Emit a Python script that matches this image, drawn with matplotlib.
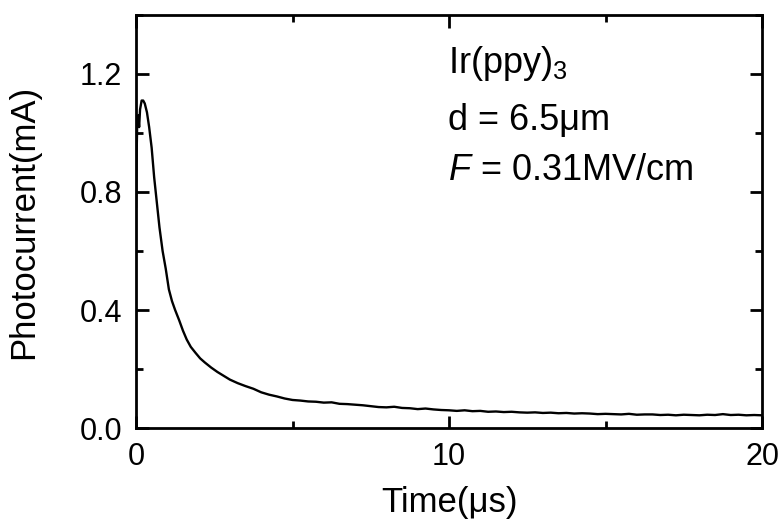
import matplotlib
matplotlib.use("Agg")
import matplotlib.pyplot as plt
from matplotlib.ticker import MultipleLocator

plt.rcParams['font.family'] = ['Liberation Sans', 'DejaVu Sans']
plt.rcParams['mathtext.fontset'] = 'custom'
plt.rcParams['mathtext.rm'] = 'Liberation Sans'
plt.rcParams['mathtext.it'] = 'Liberation Sans:italic'

time_us = [
    0.00, 0.02, 0.04, 0.07, 0.10, 0.13, 0.18, 0.23, 0.28, 0.35, 0.42, 0.50,
    0.58, 0.66, 0.75, 0.85, 0.95, 1.05, 1.15, 1.25, 1.38, 1.50, 1.62, 1.75,
    1.90, 2.05, 2.20, 2.40, 2.60, 2.80, 3.00, 3.25, 3.50, 3.75, 4.00, 4.25,
    4.50, 4.75, 5.00,
    5.25, 5.5, 5.75, 6.0, 6.25, 6.5, 6.75, 7.0, 7.25, 7.5, 7.75, 8.0,
    8.25, 8.5, 8.75, 9.0, 9.25, 9.5, 9.75, 10.0, 10.25, 10.5, 10.75, 11.0,
    11.25, 11.5, 11.75, 12.0, 12.25, 12.5, 12.75, 13.0, 13.25, 13.5, 13.75, 14.0,
    14.25, 14.5, 14.75, 15.0, 15.25, 15.5, 15.75, 16.0, 16.25, 16.5, 16.75, 17.0,
    17.25, 17.5, 17.75, 18.0, 18.25, 18.5, 18.75, 19.0, 19.25, 19.5, 19.75, 20.0,
]
photocurrent_mA = [
    0.75, 0.93, 1.04, 1.06, 1.02, 1.08, 1.11, 1.11, 1.10, 1.07, 1.02, 0.95,
    0.85, 0.77, 0.68, 0.60, 0.54, 0.47, 0.43, 0.40, 0.365, 0.33, 0.30, 0.275,
    0.255, 0.236, 0.222, 0.205, 0.190, 0.177, 0.164, 0.152, 0.142, 0.133, 0.121, 0.113,
    0.107, 0.100, 0.095,
    0.093, 0.090, 0.089, 0.086, 0.087, 0.082, 0.081, 0.079, 0.077, 0.074, 0.071, 0.070,
    0.072, 0.068, 0.067, 0.064, 0.066, 0.063, 0.061, 0.060, 0.058, 0.060, 0.057, 0.058,
    0.055, 0.056, 0.054, 0.055, 0.053, 0.052, 0.053, 0.051, 0.052, 0.050, 0.051, 0.049,
    0.050, 0.049, 0.047, 0.048, 0.047, 0.046, 0.048, 0.045, 0.046, 0.046, 0.044, 0.045,
    0.043, 0.045, 0.044, 0.043, 0.045, 0.044, 0.047, 0.044, 0.045, 0.043, 0.044, 0.043,
]

x_label = "Time(μs)"
y_label = "Photocurrent(mA)"
notes = ["Ir(ppy)$_3$", "d = 6.5μm", "$F$ = 0.31MV/cm"]

W, H = 780, 523
fig = plt.figure(figsize=(W / 100, H / 100), dpi=100)
ax = fig.add_axes([136 / W, 1 - 428 / H, (762 - 136) / W, (428 - 15) / H])

ax.plot(time_us, photocurrent_mA, color='black', lw=1.7)
ax.set_xlim(0, 20)
ax.set_ylim(0, 1.4)
ax.xaxis.set_major_locator(MultipleLocator(10))
ax.xaxis.set_minor_locator(MultipleLocator(5))
ax.yaxis.set_major_locator(MultipleLocator(0.4))
ax.yaxis.set_minor_locator(MultipleLocator(0.2))
ax.yaxis.set_major_formatter(matplotlib.ticker.FormatStrFormatter('%.1f'))

for s in ax.spines.values():
    s.set_linewidth(2.0)
ax.tick_params(which='both', direction='in', top=True, right=True, width=2.0)
ax.tick_params(which='major', length=9, labelsize=22, pad=10)
ax.tick_params(which='minor', length=5)

ax.set_xlabel(x_label, fontsize=25)
ax.set_ylabel(y_label, fontsize=25)
ax.xaxis.set_label_coords(0.5, (428 - 486) / 413)
ax.yaxis.set_label_coords((40 - 136) / 626, 0.5)

ys = [73, 130, 180]
for txt, y in zip(notes, ys):
    fig.text(448 / W, 1 - y / H, txt, fontsize=26, ha='left', va='baseline')

fig.savefig("out.png", dpi=100)
